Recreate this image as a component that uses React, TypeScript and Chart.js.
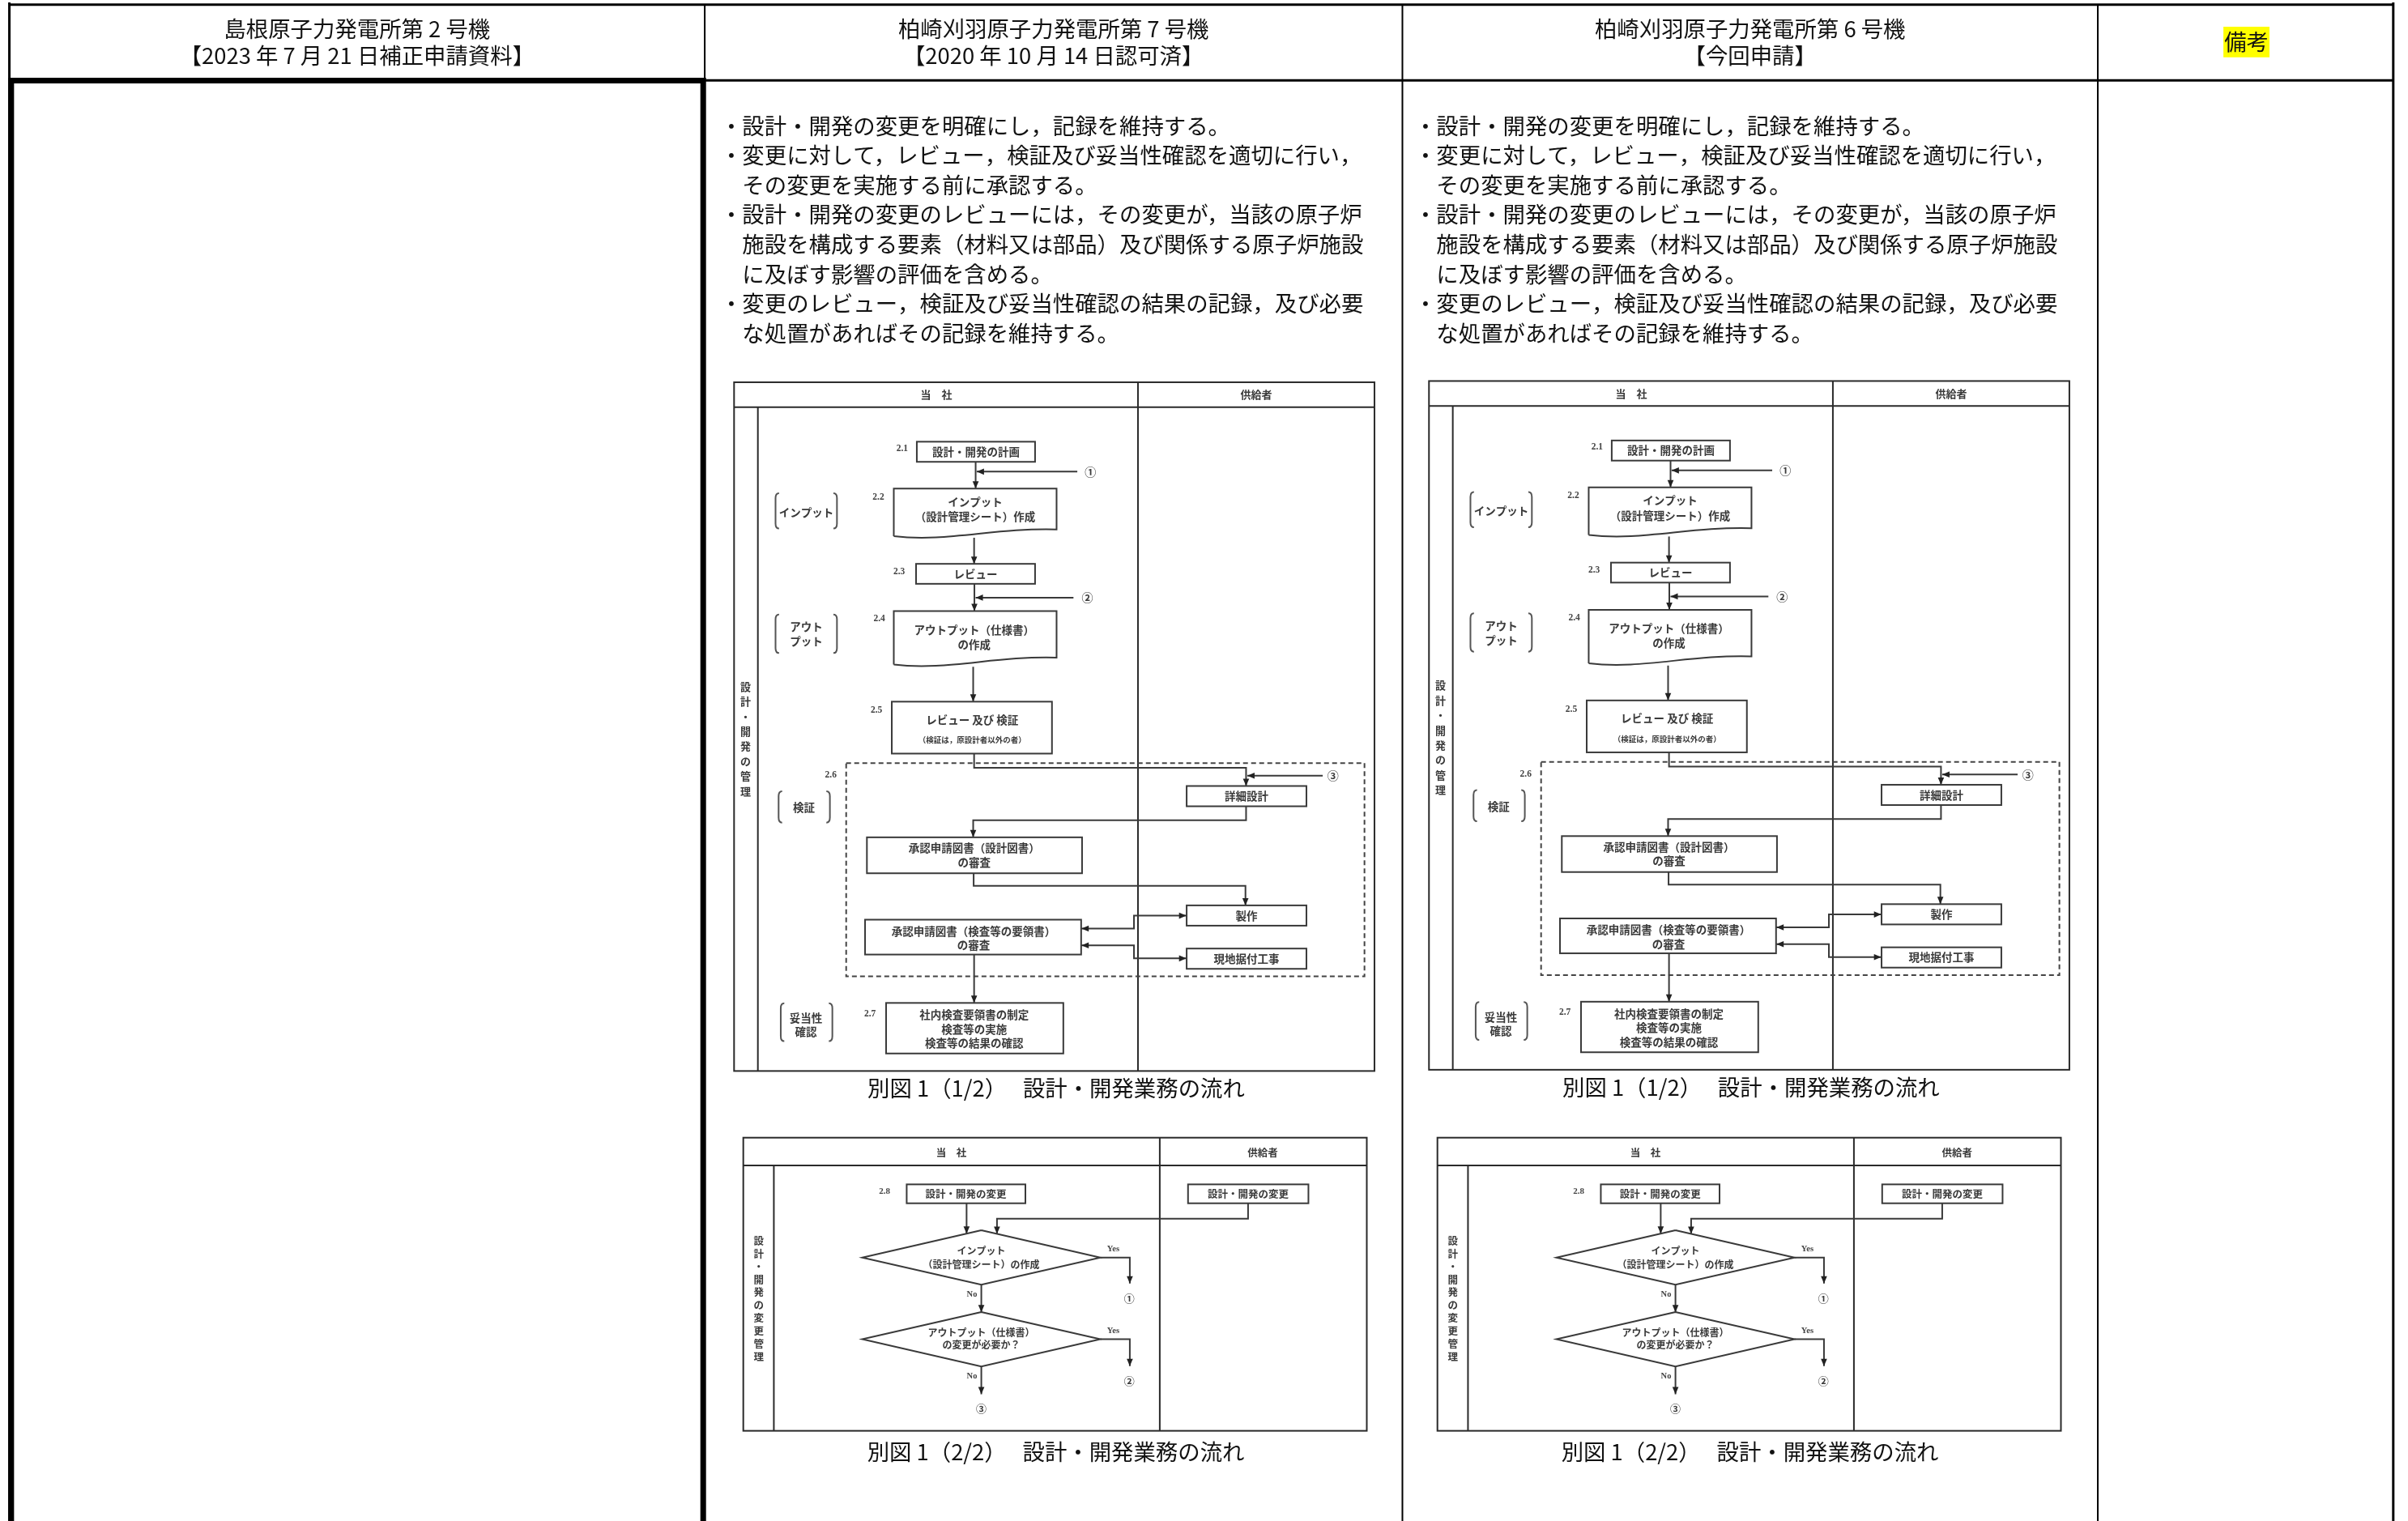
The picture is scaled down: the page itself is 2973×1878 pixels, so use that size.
import React, { useEffect, useRef } from "react";
import { Chart, registerables } from "chart.js";

Chart.register(...registerables);

// ---------------- content (text) ----------------
const HEADER_TITLES = ["島根原子力発電所第 2 号機", "柏崎刈羽原子力発電所第 7 号機", "柏崎刈羽原子力発電所第 6 号機"];
const HEADER_SUBTITLES = ["【2023 年 7 月 21 日補正申請資料】", "【2020 年 10 月 14 日認可済】", "【今回申請】"];
const REMARKS_TITLE = "備考";
const BODY_LINES = [
  "・設計・開発の変更を明確にし，記録を維持する。",
  "・変更に対して，レビュー，検証及び妥当性確認を適切に行い，",
  "その変更を実施する前に承認する。",
  "・設計・開発の変更のレビューには，その変更が，当該の原子炉",
  "施設を構成する要素（材料又は部品）及び関係する原子炉施設",
  "に及ぼす影響の評価を含める。",
  "・変更のレビュー，検証及び妥当性確認の結果の記録，及び必要",
  "な処置があればその記録を維持する。",
];
const FIGURE_CAPTIONS = ["別図 1（1/2）　 設計・開発業務の流れ", "別図 1（2/2）　 設計・開発業務の流れ"];
const LANE_TITLES = ["当　社", "供給者"];
const SIDE_TITLES = ["設計・開発の管理", "設計・開発の変更管理"];
const STEP_NUMBERS = ["2.1", "2.2", "2.3", "2.4", "2.5", "2.6", "2.7", "2.8"];
const PLAN_TEXT = ["設計・開発の計画"];
const INPUT_TEXT = ["インプット", "（設計管理シート）作成"];
const REVIEW_TEXT = ["レビュー"];
const OUTPUT_TEXT = ["アウトプット（仕様書）", "の作成"];
const VERIFY_TEXT = ["レビュー 及び 検証", "（検証は，原設計者以外の者）"];
const DETAIL_TEXT = ["詳細設計"];
const DRAWING_REVIEW_TEXT = ["承認申請図書（設計図書）", "の審査"];
const PROCEDURE_REVIEW_TEXT = ["承認申請図書（検査等の要領書）", "の審査"];
const MAKE_TEXT = ["製作"];
const SITE_TEXT = ["現地据付工事"];
const VALIDATE_TEXT = ["社内検査要領書の制定", "検査等の実施", "検査等の結果の確認"];
const PHASE_LABELS = [["インプット"], ["アウト", "プット"], ["検証"], ["妥当性", "確認"]];
const CHANGE_TEXT = ["設計・開発の変更"];
const DECISION_TEXTS = [["インプット", "（設計管理シート）の作成"], ["アウトプット（仕様書）", "の変更が必要か？"]];
const CONNECTORS = ["①", "②", "③"];
const BRANCH_LABELS = ["Yes", "No"];

// ---------------- styling ----------------
const JP = '"Noto Sans CJK JP", "Noto Sans", sans-serif';
const SERIF = '"Liberation Serif", "DejaVu Serif", serif';
const INK = "#111";
const FLOW_INK = "#3a3a3a";
const FRAME = "#2a2a2a";
const BODY_SIZE = 27.4;

type Pt = [number, number];
type TextOpts = { w?: string; c?: string; a?: CanvasTextAlign; f?: string };

function makeDrawer(ctx: CanvasRenderingContext2D, X: (u: number) => number, Y: (u: number) => number) {
  const line = (pts: Pt[], w = 2, color = FLOW_INK, dash: number[] = []) => {
    ctx.save();
    ctx.strokeStyle = color;
    ctx.lineWidth = w;
    ctx.setLineDash(dash);
    ctx.lineJoin = "miter";
    ctx.lineCap = "butt";
    ctx.beginPath();
    pts.forEach(([x, y], i) => (i ? ctx.lineTo(X(x), Y(y)) : ctx.moveTo(X(x), Y(y))));
    ctx.stroke();
    ctx.restore();
  };
  const rect = (a: Pt, b: Pt, w = 2, color = FLOW_INK, dash: number[] = []) => {
    ctx.save();
    ctx.strokeStyle = color;
    ctx.lineWidth = w;
    ctx.setLineDash(dash);
    ctx.strokeRect(X(a[0]), Y(a[1]), X(b[0]) - X(a[0]), Y(b[1]) - Y(a[1]));
    ctx.restore();
  };
  const fillRect = (a: Pt, b: Pt, color: string) => {
    ctx.save();
    ctx.fillStyle = color;
    ctx.fillRect(X(a[0]), Y(a[1]), X(b[0]) - X(a[0]), Y(b[1]) - Y(a[1]));
    ctx.restore();
  };
  const head = (tip: Pt, from: Pt, color = "#222") => {
    const tx = X(tip[0]), ty = Y(tip[1]), fx = X(from[0]), fy = Y(from[1]);
    const ang = Math.atan2(ty - fy, tx - fx);
    const L = 9, W = 3.8;
    ctx.save();
    ctx.fillStyle = color;
    ctx.beginPath();
    ctx.moveTo(tx, ty);
    ctx.lineTo(tx - L * Math.cos(ang) + W * Math.sin(ang), ty - L * Math.sin(ang) - W * Math.cos(ang));
    ctx.lineTo(tx - L * Math.cos(ang) - W * Math.sin(ang), ty - L * Math.sin(ang) + W * Math.cos(ang));
    ctx.closePath();
    ctx.fill();
    ctx.restore();
  };
  const arrow = (pts: Pt[], both = false) => {
    line(pts);
    head(pts[pts.length - 1], pts[pts.length - 2]);
    if (both) head(pts[0], pts[1]);
  };
  const text = (s: string, p: Pt, size: number, o: TextOpts = {}) => {
    ctx.save();
    ctx.font = `${o.w || "normal"} ${size}px ${o.f || JP}`;
    ctx.fillStyle = o.c || INK;
    ctx.textAlign = o.a || "center";
    ctx.textBaseline = "middle";
    ctx.fillText(s, X(p[0]), Y(p[1]));
    ctx.restore();
  };
  const lines = (arr: string[], p: Pt, pitch: number, size: number, o: TextOpts = {}) => {
    arr.forEach((s, i) => text(s, [p[0], p[1] + i * pitch], size, o));
  };
  const vtext = (s: string, p: Pt, pitch: number, size: number, o: TextOpts = {}) => {
    Array.from(s).forEach((ch, i) => text(ch, [p[0], p[1] + i * pitch], size, o));
  };
  // document symbol: top-left corner a, top-right x2, bottom of left side yL, bottom of right side yR
  const doc = (a: Pt, x2: number, yL: number, yR: number) => {
    const [x1, top] = a;
    const w = x2 - x1;
    ctx.save();
    ctx.strokeStyle = FLOW_INK;
    ctx.lineWidth = 2;
    ctx.beginPath();
    ctx.moveTo(X(x1), Y(yL));
    ctx.lineTo(X(x1), Y(top));
    ctx.lineTo(X(x2), Y(top));
    ctx.lineTo(X(x2), Y(yR));
    ctx.bezierCurveTo(X(x1 + 0.62 * w), Y(yR - 1.2), X(x1 + 0.32 * w), Y(yL + 4.2), X(x1), Y(yL));
    ctx.stroke();
    ctx.restore();
  };
  const diamond = (c: Pt, hw: number, hh: number) => {
    line([[c[0], c[1] - hh], [c[0] + hw, c[1]], [c[0], c[1] + hh], [c[0] - hw, c[1]], [c[0], c[1] - hh]], 2, FLOW_INK);
  };
  const bracket = (a: Pt, b: Pt) => {
    const [x1, y1] = a, [x2, y2] = b;
    const h = 2.3, r = 3.2;
    ctx.save();
    ctx.strokeStyle = "#555";
    ctx.lineWidth = 2;
    ctx.beginPath();
    ctx.moveTo(X(x1 + h), Y(y1));
    ctx.quadraticCurveTo(X(x1), Y(y1), X(x1), Y(y1 + r));
    ctx.lineTo(X(x1), Y(y2 - r));
    ctx.quadraticCurveTo(X(x1), Y(y2), X(x1 + h), Y(y2));
    ctx.moveTo(X(x2 - h), Y(y1));
    ctx.quadraticCurveTo(X(x2), Y(y1), X(x2), Y(y1 + r));
    ctx.lineTo(X(x2), Y(y2 - r));
    ctx.quadraticCurveTo(X(x2), Y(y2), X(x2 - h), Y(y2));
    ctx.stroke();
    ctx.restore();
  };
  return { line, rect, fillRect, head, arrow, text, lines, vtext, doc, diamond, bracket };
}
type Drawer = ReturnType<typeof makeDrawer>;

const FT = { w: "bold", c: FLOW_INK }; // flowchart text
const NUM = { w: "bold", c: "#444", f: SERIF };

function drawTable(d: Drawer) {
  d.line([[6.1, 3.0], [1558.4, 3.0]], 3, "#000");
  d.line([[6.1, 1.6], [6.1, 995]], 3, "#000");
  d.line([[1558.4, 1.6], [1558.4, 995]], 3, "#000");
  d.line([[458.9, 3], [458.9, 52.3]], 2, "#000");
  d.line([[913.2, 3], [913.2, 995]], 2, "#000");
  d.line([[1366.0, 3], [1366.0, 995]], 2, "#000");
  d.line([[458.9, 52.3], [1558.4, 52.3]], 3, "#000");
  d.line([[7.3, 995], [7.3, 52.4], [457.9, 52.4], [457.9, 995]], 7, "#000");

  const centers = [232.5, 686.0, 1139.6];
  centers.forEach((cx, i) => {
    d.text(HEADER_TITLES[i], [cx, 18.6], BODY_SIZE, { c: INK });
    d.text(HEADER_SUBTITLES[i], [cx, 36.0], BODY_SIZE, { c: INK });
  });
  d.fillRect([1447.8, 17.4], [1477.8, 37.3], "#ffff00");
  d.text(REMARKS_TITLE, [1462.8, 27.4], BODY_SIZE, { c: INK });
}

function drawBody(d: Drawer, dx: number) {
  BODY_LINES.forEach((s, i) => {
    const y = 81.8 + i * 19.3;
    if (s.startsWith("・")) {
      d.text("・", [476.2 + dx, y], BODY_SIZE, { c: INK });
      d.text(s.slice(1), [483.3 + dx, y], BODY_SIZE, { c: INK, a: "left" });
    } else {
      d.text(s, [483.3 + dx, y], BODY_SIZE, { c: INK, a: "left" });
    }
  });
}

function drawFlow1(d: Drawer, dx: number, dy: number) {
  const P = (x: number, y: number): Pt => [x + dx, y + dy];
  d.rect(P(478, 248.8), P(895, 697.1), 2, FRAME);
  d.line([P(478, 265), P(895, 265)], 2, FRAME);
  d.line([P(741, 248.8), P(741, 697.1)], 2, FRAME);
  d.line([P(493.5, 265), P(493.5, 697.1)], 2, FRAME);
  d.text(LANE_TITLES[0], P(609.7, 257), 13, FT);
  d.text(LANE_TITLES[1], P(818, 257), 13, FT);
  d.vtext(SIDE_TITLES[0], P(485.5, 447), 9.7, 13, FT);

  // 2.1
  d.rect(P(597, 287.5), P(674, 300.6));
  d.lines(PLAN_TEXT, P(635.5, 294), 0, 13.5, FT);
  d.text(STEP_NUMBERS[0], P(587.5, 292), 11.5, NUM);
  d.arrow([P(635.3, 300.6), P(635.3, 318)]);
  d.arrow([P(701.5, 307), P(636, 307)]);
  d.text(CONNECTORS[0], P(710, 307), 14, FT);

  // 2.2
  d.doc(P(582, 318), 688 + dx, 349 + dy, 344.6 + dy);
  d.lines(INPUT_TEXT, P(635, 326.6), 9.9, 13.5, FT);
  d.text(STEP_NUMBERS[1], P(572, 323.5), 11.5, NUM);
  d.bracket(P(505, 321), P(545, 344));
  d.lines(PHASE_LABELS[0], P(525, 333.5), 0, 13.5, FT);
  d.arrow([P(634.3, 350), P(634.3, 367)]);

  // 2.3
  d.rect(P(596.5, 367), P(674, 380));
  d.lines(REVIEW_TEXT, P(635.3, 373.5), 0, 13.5, FT);
  d.text(STEP_NUMBERS[2], P(585.5, 372), 11.5, NUM);
  d.arrow([P(634.5, 380), P(634.5, 397.7)]);
  d.arrow([P(699, 389), P(635.3, 389)]);
  d.text(CONNECTORS[1], P(708, 389), 14, FT);

  // 2.4
  d.doc(P(582, 397.7), 688 + dx, 432.5 + dy, 428 + dy);
  d.lines(OUTPUT_TEXT, P(634.3, 410), 9.3, 13.5, FT);
  d.text(STEP_NUMBERS[3], P(572.6, 403), 11.5, NUM);
  d.bracket(P(505, 400), P(545, 425));
  d.lines(PHASE_LABELS[1], P(525, 408), 9.6, 13.5, FT);
  d.arrow([P(633.7, 434), P(633.7, 456.7)]);

  // 2.5
  d.rect(P(580.7, 456.7), P(685, 490.5));
  d.text(VERIFY_TEXT[0], P(633, 468.4), 13.5, FT);
  d.text(VERIFY_TEXT[1], P(633, 481.7), 9.5, FT);
  d.text(STEP_NUMBERS[4], P(570.7, 462.4), 11.5, NUM);

  // 2.6 dashed region
  d.rect(P(551, 496.7), P(888.5, 635.5), 2, "#444", [6, 4]);
  d.text(STEP_NUMBERS[5], P(541, 504.6), 11.5, NUM);
  d.bracket(P(507, 515), P(540.4, 535.4));
  d.lines(PHASE_LABELS[2], P(523.4, 525.7), 0, 13.5, FT);
  d.arrow([P(634.3, 490.5), P(634.3, 499.8), P(811.4, 499.8), P(811.4, 511.6)]);
  d.arrow([P(861.3, 504.9), P(812.2, 504.9)]);
  d.text(CONNECTORS[2], P(868, 504.9), 14, FT);

  d.rect(P(772.7, 511.6), P(850.7, 524.8));
  d.lines(DETAIL_TEXT, P(811.7, 518.2), 0, 13.5, FT);
  d.arrow([P(811.4, 524.8), P(811.4, 533.9), P(633.7, 533.9), P(633.7, 545)]);

  d.rect(P(564.5, 545), P(704.6, 568.4));
  d.lines(DRAWING_REVIEW_TEXT, P(634.3, 552), 9.2, 13.5, FT);
  d.arrow([P(634, 568.4), P(634, 576.6), P(811, 576.6), P(811, 589.3)]);

  d.rect(P(772.7, 589.3), P(850.7, 602.5));
  d.lines(MAKE_TEXT, P(811.7, 596), 0, 13.5, FT);

  d.rect(P(563.3, 598.6), P(704, 621.3));
  d.lines(PROCEDURE_REVIEW_TEXT, P(634, 606), 9.3, 13.5, FT);
  d.arrow([P(704.2, 604.4), P(738.4, 604.4), P(738.4, 596), P(772.5, 596)], true);
  d.arrow([P(704.2, 615.3), P(738.4, 615.3), P(738.4, 623.8), P(772.5, 623.8)], true);

  d.rect(P(772.7, 617.4), P(850.7, 630.6));
  d.lines(SITE_TEXT, P(811.7, 624), 0, 13.5, FT);

  // 2.7
  d.arrow([P(634.3, 621.3), P(634.3, 652.8)]);
  d.rect(P(577, 652.8), P(692.4, 685.7));
  d.lines(VALIDATE_TEXT, P(634.3, 660.7), 9.2, 13.5, FT);
  d.text(STEP_NUMBERS[6], P(566.5, 660), 11.5, NUM);
  d.bracket(P(508.4, 653), P(542, 677.7));
  d.lines(PHASE_LABELS[3], P(524.8, 662.8), 8.8, 13.5, FT);

  d.text(FIGURE_CAPTIONS[0], P(687.7, 708.5), BODY_SIZE, { c: INK });
}

function drawFlow2(d: Drawer, dx: number, dy: number) {
  const P = (x: number, y: number): Pt => [x + dx, y + dy];
  d.rect(P(484, 740.5), P(890, 931.3), 2, FRAME);
  d.line([P(484, 758.6), P(890, 758.6)], 2, FRAME);
  d.line([P(755.2, 740.5), P(755.2, 931.3)], 2, FRAME);
  d.line([P(503.9, 758.6), P(503.9, 931.3)], 2, FRAME);
  d.text(LANE_TITLES[0], P(619.4, 750.2), 12.5, FT);
  d.text(LANE_TITLES[1], P(822.3, 750.2), 12.5, FT);
  d.vtext(SIDE_TITLES[1], P(494.1, 807.8), 8.35, 12.5, FT);

  d.rect(P(590.4, 770.9), P(667.7, 783.2));
  d.lines(CHANGE_TEXT, P(629, 777.2), 0, 12.5, FT);
  d.text(STEP_NUMBERS[7], P(576, 775.7), 11, NUM);
  d.rect(P(773.6, 770.9), P(852, 783.2));
  d.lines(CHANGE_TEXT, P(812.8, 777.2), 0, 12.5, FT);

  const hw = 77.5, hh = 17.7;
  const cx = 639;
  const slopeY = (cy: number, x: number) => cy - hh + (Math.abs(cx - x) * hh) / hw;
  d.arrow([P(629.4, 783.2), P(629.4, slopeY(818.5, 629.4))]);
  d.arrow([P(812.7, 783.2), P(812.7, 793.2), P(649.2, 793.2), P(649.2, slopeY(818.5, 649.2))]);

  d.diamond(P(cx, 818.5), hw, hh);
  d.lines(DECISION_TEXTS[0], P(639, 814.3), 8.8, 12, FT);
  d.arrow([P(716.5, 818.5), P(735.7, 818.5), P(735.7, 835.4)]);
  d.text(BRANCH_LABELS[0], P(724.9, 812.8), 10.5, NUM);
  d.text(CONNECTORS[0], P(735.3, 845.3), 13, FT);
  d.arrow([P(639, 836.2), P(639, 854.1)]);
  d.text(BRANCH_LABELS[1], P(632.9, 842.5), 10.5, NUM);

  d.diamond(P(cx, 871.7), hw, hh);
  d.lines(DECISION_TEXTS[1], P(639, 867.6), 7.6, 12, FT);
  d.arrow([P(716.5, 871.7), P(735.7, 871.7), P(735.7, 889.2)]);
  d.text(BRANCH_LABELS[0], P(724.9, 866.2), 10.5, NUM);
  d.text(CONNECTORS[1], P(735.3, 898.7), 13, FT);
  d.arrow([P(639, 889.4), P(639, 907.5)]);
  d.text(BRANCH_LABELS[1], P(632.9, 895.7), 10.5, NUM);
  d.text(CONNECTORS[2], P(639, 916.8), 13, FT);

  d.text(FIGURE_CAPTIONS[1], P(687.5, 945), BODY_SIZE, { c: INK });
}

const pagePlugin = {
  id: "comparisonPage",
  beforeDraw(chart: any) {
    const ctx = chart.ctx as CanvasRenderingContext2D;
    ctx.save();
    ctx.fillStyle = "#ffffff";
    ctx.fillRect(0, 0, chart.width, chart.height);
    ctx.restore();
  },
  afterDraw(chart: any) {
    const xs = chart.scales.x;
    const ys = chart.scales.y;
    const X = (u: number) => xs.getPixelForValue(u);
    const Y = (u: number) => ys.getPixelForValue(u);
    const d = makeDrawer(chart.ctx, X, Y);
    drawTable(d);
    drawBody(d, 0);
    drawBody(d, 452);
    drawFlow1(d, 0, 0);
    drawFlow1(d, 452.5, -0.8);
    drawFlow2(d, 0, 0);
    drawFlow2(d, 452, 0);
  },
};

export default function App() {
  const ref = useRef<HTMLCanvasElement>(null);
  useEffect(() => {
    document.body.style.margin = "0";
    const canvas = ref.current;
    if (!canvas) return;
    const chart = new Chart(canvas, {
      type: "scatter",
      data: { datasets: [{ data: [] }] },
      options: {
        responsive: false,
        animation: false,
        devicePixelRatio: 1,
        events: [],
        layout: { padding: 0 },
        scales: {
          x: { type: "linear", min: 0, max: 1568, display: false },
          y: { type: "linear", min: 0, max: 990, reverse: true, display: false },
        },
        plugins: { legend: { display: false }, tooltip: { enabled: false }, title: { display: false } },
      },
      plugins: [pagePlugin],
    } as any);
    return () => chart.destroy();
  }, []);
  return (
    <div style={{ position: "absolute", left: 0, top: 0, width: 2973, height: 1878, background: "#fff", overflow: "hidden" }}>
      <canvas ref={ref} width={2973} height={1878} style={{ display: "block", width: 2973, height: 1878 }} />
    </div>
  );
}
